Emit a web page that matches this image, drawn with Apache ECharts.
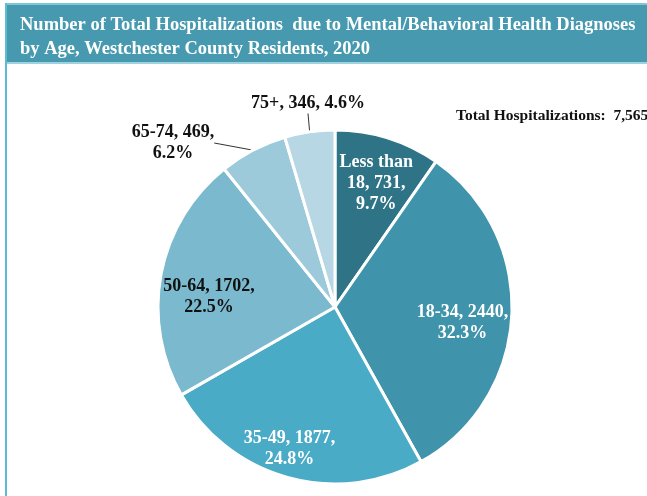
<!DOCTYPE html>
<html><head><meta charset="utf-8">
<script src="https://cdn.jsdelivr.net/npm/echarts@6/dist/echarts.min.js"></script>
<style>html,body{margin:0;padding:0;background:#fff}#c{width:647px;height:496px}</style>
</head><body><div id="c"></div>
<script>
const categories = ['Less than 18', '18-34', '35-49', '50-64', '65-74', '75+'];
const labelNames = ['Less than\n18', '18-34', '35-49', '50-64', '65-74', '75+'];
const values = [731, 2440, 1877, 1702, 469, 346];
const percents = ['9.7%', '32.3%', '24.8%', '22.5%', '6.2%', '4.6%'];
const totalText = 'Total Hospitalizations:  7,565';
const colors = ['#2f7387', '#3f93aa', '#4aabc6', '#7bb9cf', '#9dcadb', '#b6d7e3'];
const labelColors = ['#ffffff', '#ffffff', '#ffffff', '#111111', '#111111', '#111111'];
const labelFormats = [
  n => n + ', ' + values[0] + ',\n' + percents[0],
  n => n + ', ' + values[1] + ',\n' + percents[1],
  n => n + ', ' + values[2] + ',\n' + percents[2],
  n => n + ', ' + values[3] + ',\n' + percents[3],
  n => n + ', ' + values[4] + ',\n' + percents[4],
  n => n + ', ' + values[5] + ', ' + percents[5]
];
const labelShift = [[14, -36], [36, 11], [-21, 54], [-36, 7], [0, 0], [0, 0]];

const serif = '"Liberation Serif", "Times New Roman", serif';
const chart = echarts.init(document.getElementById('c'), null, {renderer: 'canvas'});
const data = categories.map((c, i) => ({
  name: c,
  value: values[i],
  itemStyle: {color: colors[i]},
  label: {
    position: i >= 4 ? 'outside' : 'inside',
    color: labelColors[i],
    formatter: labelFormats[i](labelNames[i])
  },
  labelLine: {show: i >= 4}
}));
chart.setOption({
  animation: false,
  backgroundColor: '#ffffff',
  graphic: [
    {type: 'rect', shape: {x: 0, y: 0, width: 647, height: 4}, style: {fill: '#ffffff'}},
    {type: 'rect', shape: {x: 5, y: 3, width: 642, height: 2}, style: {fill: '#7fc6d8'}},
    {type: 'rect', shape: {x: 5, y: 3, width: 2, height: 493}, style: {fill: '#5bbcd6'}},
    {type: 'rect', shape: {x: 7, y: 5, width: 640, height: 57}, style: {fill: '#4699af'}},
    {type: 'rect', shape: {x: 7, y: 62, width: 640, height: 2}, style: {fill: '#9fd2df'}},
    {type: 'text', left: 456, top: 108, style: {text: totalText, font: 'bold 15.5px ' + serif, fill: '#111111'}}
  ],
  title: {
    text: 'Number of Total Hospitalizations  due to Mental/Behavioral Health Diagnoses\nby Age, Westchester County Residents, 2020',
    left: 15, top: 8,
    textStyle: {color: '#ffffff', fontFamily: serif, fontWeight: 'bold', fontSize: 18.5, lineHeight: 24}
  },
  series: [{
    type: 'pie',
    center: [335, 307],
    radius: [0, 177],
    startAngle: 90,
    clockwise: true,
    data: data,
    itemStyle: {borderColor: '#ffffff', borderWidth: 3},
    label: {
      fontFamily: serif, fontWeight: 'bold', fontSize: 18, lineHeight: 21, align: 'center'
    },
    labelLine: {length: 14, length2: 0, lineStyle: {color: '#333333', width: 1}},
    labelLayout: function (p) {
      const i = p.dataIndex;
      if (i === 4) return {x: 173, y: 143, align: 'center', verticalAlign: 'middle'};
      if (i === 5) return {x: 308, y: 103, align: 'center', verticalAlign: 'middle'};
      return {dx: labelShift[i][0], dy: labelShift[i][1]};
    }
  }]
});
</script></body></html>
